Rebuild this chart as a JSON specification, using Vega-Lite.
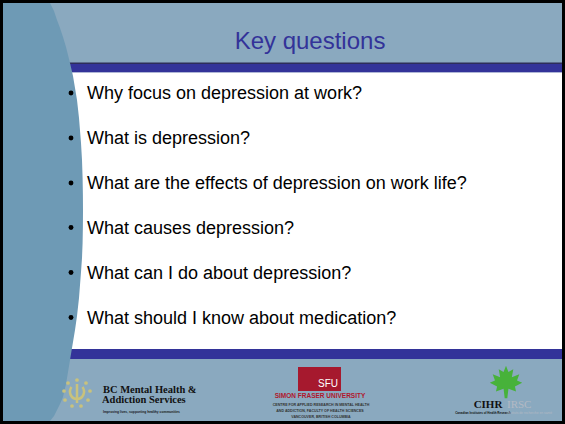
{
  "$schema": "https://vega.github.io/schema/vega-lite/v6.json",
  "width": 565,
  "height": 424,
  "autosize": {"type": "fit", "contains": "padding"},
  "padding": 0,
  "background": "#000000",
  "config": {"view": {"stroke": null}},
  "datasets": {
    "frame": [{"x": 3, "x2": 562, "y": 3, "y2": 421}],
    "bars": [{"x": 30, "x2": 562, "y": 63.5, "y2": 72.5}, {"x": 30, "x2": 562, "y": 349, "y2": 359}],
    "darkline": [{"x": 30, "x2": 562, "y": 62.5, "y2": 64}],
    "white": [{"x": 30, "x2": 562, "y": 72.5, "y2": 349}],
    "curve": [
      {"x": 3, "top": 3, "bottom": 421},
      {"x": 50, "top": 3, "bottom": 421},
      {"x": 54, "top": 11, "bottom": 416},
      {"x": 57, "top": 20, "bottom": 410},
      {"x": 60, "top": 28, "bottom": 404},
      {"x": 63, "top": 37, "bottom": 397},
      {"x": 66, "top": 47, "bottom": 384},
      {"x": 70, "top": 63, "bottom": 360},
      {"x": 73, "top": 76, "bottom": 342},
      {"x": 75, "top": 88, "bottom": 330},
      {"x": 77, "top": 100, "bottom": 316},
      {"x": 79, "top": 118, "bottom": 298},
      {"x": 81, "top": 143, "bottom": 272},
      {"x": 82, "top": 160, "bottom": 258},
      {"x": 82.6, "top": 178, "bottom": 243},
      {"x": 82.9, "top": 195, "bottom": 226},
      {"x": 83, "top": 210, "bottom": 211}
    ],
    "title": [{"x": 310, "y": 49, "text": "Key questions"}],
    "bullets": [
      {"x": 87, "y": 99, "bx": 71, "by": 93, "text": "Why focus on depression at work?"},
      {"x": 87, "y": 144, "bx": 71, "by": 138, "text": "What is depression?"},
      {"x": 87, "y": 189, "bx": 71, "by": 183, "text": "What are the effects of depression on work life?"},
      {"x": 87, "y": 233.5, "bx": 71, "by": 227.5, "text": "What causes depression?"},
      {"x": 87, "y": 278.5, "bx": 71, "by": 272.5, "text": "What can I do about depression?"},
      {"x": 87, "y": 323.5, "bx": 71, "by": 317.5, "text": "What should I know about medication?"}
    ],
    "sundots": [
      {"x": 77, "y": 380}, {"x": 86, "y": 383}, {"x": 90, "y": 391}, {"x": 88, "y": 400},
      {"x": 81, "y": 406}, {"x": 72, "y": 406}, {"x": 65, "y": 400}, {"x": 64, "y": 391}, {"x": 68, "y": 383}
    ],
    "sunring": [{"x": 77, "y": 393}],
    "bctext": [
      {"x": 103, "y": 392.5, "text": "BC Mental Health &"},
      {"x": 102, "y": 403, "text": "Addiction Services"}
    ],
    "bcsmall": [{"x": 103, "y": 412, "text": "Improving lives, supporting healthy communities"}],
    "sfubox": [{"x": 298, "x2": 341, "y": 367, "y2": 391}],
    "sfu": [{"x": 338, "y": 387, "text": "SFU"}],
    "sfured": [{"x": 320, "y": 395.5, "text": "SIMON FRASER UNIVERSITY"}],
    "sfugray": [
      {"x": 321, "y": 404.5, "text": "CENTRE FOR APPLIED RESEARCH IN MENTAL HEALTH"},
      {"x": 320, "y": 410.5, "text": "AND ADDICTION, FACULTY OF HEALTH SCIENCES"},
      {"x": 321, "y": 416.5, "text": "VANCOUVER, BRITISH COLUMBIA"}
    ],
    "leaf": [{"x": 506, "y": 382}],
    "cihr": [{"x": 488, "y": 407.5, "text": "CIHR"}],
    "cihrsmall": [{"x": 483, "y": 413, "text": "Canadian Institutes of Health Research"}],
    "irsc": [{"x": 507, "y": 407.5, "text": "IRSC"}],
    "irscsmall": [{"x": 507, "y": 413, "text": "Instituts de recherche en santé"}]
  },
  "layer": [
    {
      "data": {"name": "frame"},
      "mark": {"type": "rect", "fill": "#8aa9bf"},
      "encoding": {
        "x": {"field": "x", "type": "quantitative", "scale": {"domain": [0, 565], "nice": false, "zero": false}, "axis": null},
        "x2": {"field": "x2"},
        "y": {"field": "y", "type": "quantitative", "scale": {"domain": [0, 424], "reverse": true, "nice": false, "zero": false}, "axis": null},
        "y2": {"field": "y2"}
      }
    },
    {
      "data": {"name": "bars"},
      "mark": {"type": "rect", "fill": "#333399"},
      "encoding": {
        "x": {"field": "x", "type": "quantitative", "axis": null},
        "x2": {"field": "x2"},
        "y": {"field": "y", "type": "quantitative", "axis": null},
        "y2": {"field": "y2"}
      }
    },
    {
      "data": {"name": "darkline"},
      "mark": {"type": "rect", "fill": "#2d2d5a"},
      "encoding": {
        "x": {"field": "x", "type": "quantitative", "axis": null},
        "x2": {"field": "x2"},
        "y": {"field": "y", "type": "quantitative", "axis": null},
        "y2": {"field": "y2"}
      }
    },
    {
      "data": {"name": "white"},
      "mark": {"type": "rect", "fill": "#ffffff"},
      "encoding": {
        "x": {"field": "x", "type": "quantitative", "axis": null},
        "x2": {"field": "x2"},
        "y": {"field": "y", "type": "quantitative", "axis": null},
        "y2": {"field": "y2"}
      }
    },
    {
      "data": {"name": "curve"},
      "mark": {"type": "area", "orient": "vertical", "interpolate": "linear", "fill": "#6e9ab5", "opacity": 1},
      "encoding": {
        "x": {"field": "x", "type": "quantitative", "axis": null},
        "y": {"field": "top", "type": "quantitative", "axis": null},
        "y2": {"field": "bottom"}
      }
    },
    {
      "data": {"name": "title"},
      "mark": {"type": "text", "font": "Liberation Sans", "fontSize": 24, "color": "#333399", "align": "center", "baseline": "alphabetic"},
      "encoding": {
        "x": {"field": "x", "type": "quantitative", "axis": null},
        "y": {"field": "y", "type": "quantitative", "axis": null},
        "text": {"field": "text"}
      }
    },
    {
      "data": {"name": "bullets"},
      "mark": {"type": "point", "shape": "circle", "filled": true, "size": 24, "color": "#000000", "opacity": 1},
      "encoding": {
        "x": {"field": "bx", "type": "quantitative", "axis": null},
        "y": {"field": "by", "type": "quantitative", "axis": null}
      }
    },
    {
      "data": {"name": "bullets"},
      "mark": {"type": "text", "font": "Liberation Sans", "fontSize": 18, "color": "#000000", "align": "left", "baseline": "alphabetic"},
      "encoding": {
        "x": {"field": "x", "type": "quantitative", "axis": null},
        "y": {"field": "y", "type": "quantitative", "axis": null},
        "text": {"field": "text"}
      }
    },
    {
      "data": {"name": "sundots"},
      "mark": {"type": "point", "shape": "circle", "filled": true, "size": 14, "color": "#c9c27c", "opacity": 1},
      "encoding": {
        "x": {"field": "x", "type": "quantitative", "axis": null},
        "y": {"field": "y", "type": "quantitative", "axis": null}
      }
    },
    {
      "data": {"name": "sunring"},
      "mark": {"type": "point", "shape": "M-0.55,-0.6 C-0.9,-0.1 -0.6,0.6 0,0.6 C0.6,0.6 0.9,-0.1 0.55,-0.6 M0,-0.9 L0,1", "filled": false, "size": 400, "stroke": "#c9c27c", "strokeWidth": 2.5, "opacity": 1},
      "encoding": {
        "x": {"field": "x", "type": "quantitative", "axis": null},
        "y": {"field": "y", "type": "quantitative", "axis": null}
      }
    },
    {
      "data": {"name": "bctext"},
      "mark": {"type": "text", "font": "Liberation Serif", "fontWeight": "bold", "fontSize": 10.5, "color": "#111111", "align": "left", "baseline": "alphabetic"},
      "encoding": {
        "x": {"field": "x", "type": "quantitative", "axis": null},
        "y": {"field": "y", "type": "quantitative", "axis": null},
        "text": {"field": "text"}
      }
    },
    {
      "data": {"name": "bcsmall"},
      "mark": {"type": "text", "font": "Liberation Sans", "fontWeight": "bold", "fontSize": 3.3, "color": "#1a1a1a", "align": "left", "baseline": "middle"},
      "encoding": {
        "x": {"field": "x", "type": "quantitative", "axis": null},
        "y": {"field": "y", "type": "quantitative", "axis": null},
        "text": {"field": "text"}
      }
    },
    {
      "data": {"name": "sfubox"},
      "mark": {"type": "rect", "fill": "#a6192e"},
      "encoding": {
        "x": {"field": "x", "type": "quantitative", "axis": null},
        "x2": {"field": "x2"},
        "y": {"field": "y", "type": "quantitative", "axis": null},
        "y2": {"field": "y2"}
      }
    },
    {
      "data": {"name": "sfu"},
      "mark": {"type": "text", "font": "Liberation Sans", "fontSize": 10, "color": "#ffffff", "align": "right", "baseline": "alphabetic"},
      "encoding": {
        "x": {"field": "x", "type": "quantitative", "axis": null},
        "y": {"field": "y", "type": "quantitative", "axis": null},
        "text": {"field": "text"}
      }
    },
    {
      "data": {"name": "sfured"},
      "mark": {"type": "text", "font": "Liberation Sans", "fontWeight": "bold", "fontSize": 6.5, "color": "#b0172d", "align": "center", "baseline": "middle"},
      "encoding": {
        "x": {"field": "x", "type": "quantitative", "axis": null},
        "y": {"field": "y", "type": "quantitative", "axis": null},
        "text": {"field": "text"}
      }
    },
    {
      "data": {"name": "sfugray"},
      "mark": {"type": "text", "font": "Liberation Sans", "fontWeight": "bold", "fontSize": 3.6, "color": "#333333", "align": "center", "baseline": "middle"},
      "encoding": {
        "x": {"field": "x", "type": "quantitative", "axis": null},
        "y": {"field": "y", "type": "quantitative", "axis": null},
        "text": {"field": "text"}
      }
    },
    {
      "data": {"name": "leaf"},
      "mark": {"type": "point", "shape": "M0,-1 L0.15,-0.62 L0.45,-0.78 L0.36,-0.3 L0.82,-0.48 L0.68,-0.1 L1,0.05 L0.55,0.28 L0.62,0.58 L0.15,0.42 L0.08,1 L-0.08,1 L-0.15,0.42 L-0.62,0.58 L-0.55,0.28 L-1,0.05 L-0.68,-0.1 L-0.82,-0.48 L-0.36,-0.3 L-0.45,-0.78 L-0.15,-0.62 Z", "filled": true, "size": 1050, "color": "#47b23a", "opacity": 1},
      "encoding": {
        "x": {"field": "x", "type": "quantitative", "axis": null},
        "y": {"field": "y", "type": "quantitative", "axis": null}
      }
    },
    {
      "data": {"name": "cihr"},
      "mark": {"type": "text", "font": "Liberation Serif", "fontWeight": "bold", "fontSize": 11, "color": "#111111", "align": "center", "baseline": "alphabetic"},
      "encoding": {
        "x": {"field": "x", "type": "quantitative", "axis": null},
        "y": {"field": "y", "type": "quantitative", "axis": null},
        "text": {"field": "text"}
      }
    },
    {
      "data": {"name": "cihrsmall"},
      "mark": {"type": "text", "font": "Liberation Sans", "fontWeight": "bold", "fontSize": 3, "color": "#111111", "align": "center", "baseline": "middle"},
      "encoding": {
        "x": {"field": "x", "type": "quantitative", "axis": null},
        "y": {"field": "y", "type": "quantitative", "axis": null},
        "text": {"field": "text"}
      }
    },
    {
      "data": {"name": "irsc"},
      "mark": {"type": "text", "font": "Liberation Serif", "fontSize": 11, "color": "#b3b9c4", "align": "left", "baseline": "alphabetic"},
      "encoding": {
        "x": {"field": "x", "type": "quantitative", "axis": null},
        "y": {"field": "y", "type": "quantitative", "axis": null},
        "text": {"field": "text"}
      }
    },
    {
      "data": {"name": "irscsmall"},
      "mark": {"type": "text", "font": "Liberation Sans", "fontSize": 3.3, "color": "#b3b9c4", "align": "left", "baseline": "middle"},
      "encoding": {
        "x": {"field": "x", "type": "quantitative", "axis": null},
        "y": {"field": "y", "type": "quantitative", "axis": null},
        "text": {"field": "text"}
      }
    }
  ]
}
